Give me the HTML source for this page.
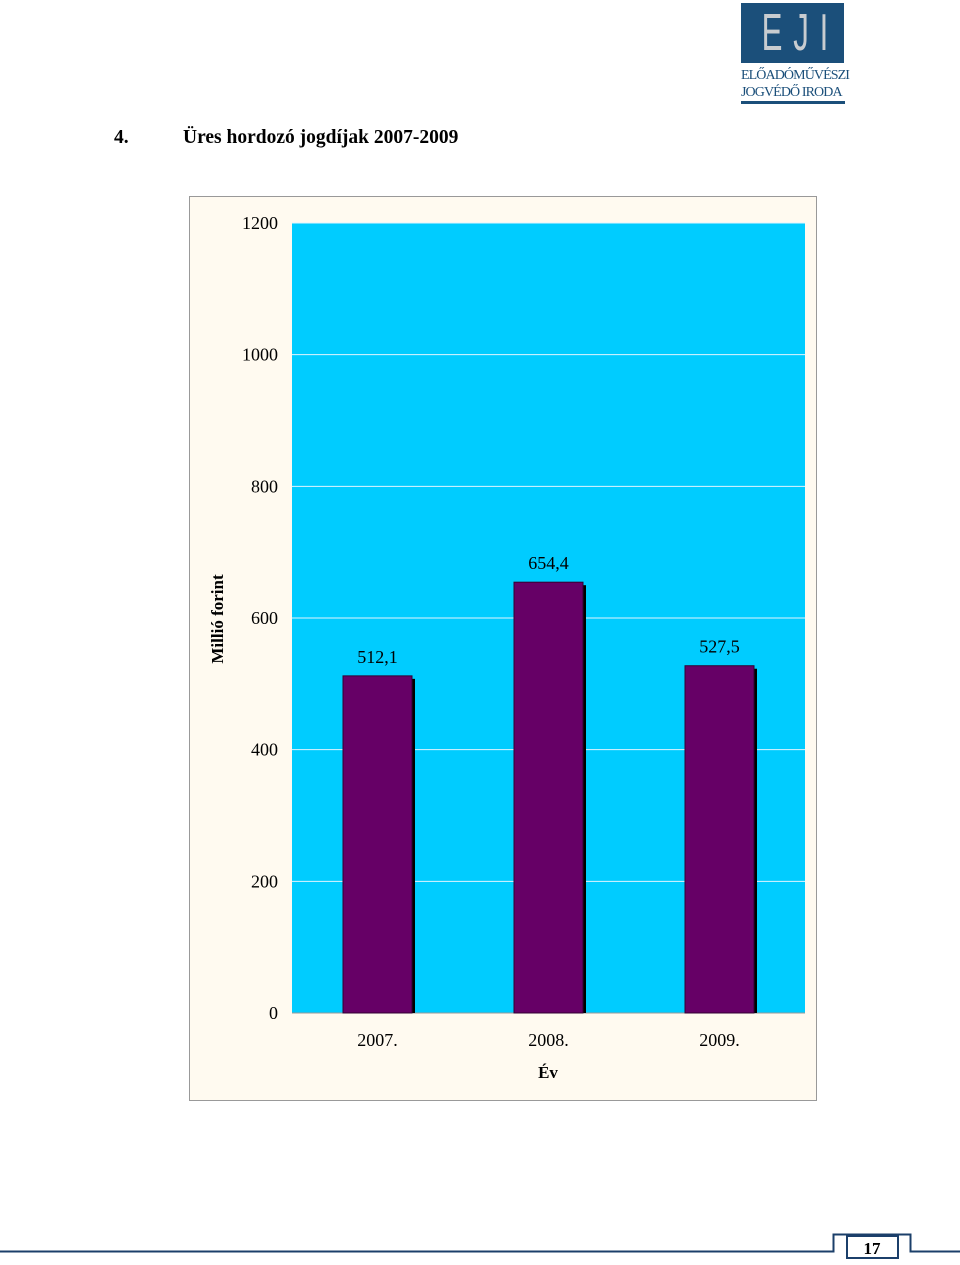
<!DOCTYPE html>
<html><head><meta charset="utf-8"><style>
body{margin:0;width:960px;height:1265px;background:#fff;position:relative;font-family:"Liberation Serif",serif;overflow:hidden}
.a{position:absolute}
</style></head><body>
<div class="a" style="left:741px;top:3px;width:103px;height:60px;background:#1b4f7a"></div>
<div class="a" style="left:741px;top:3px;width:103px;height:60px;color:#c8ccd0;font-size:52px;line-height:60px;text-align:center;letter-spacing:18px;font-family:'Liberation Sans',sans-serif;font-weight:100;transform:scaleX(0.6)">EJI</div>
<div class="a" style="left:741px;top:67px;color:#1b4f7a;font-size:14px;line-height:17px;letter-spacing:-0.9px;white-space:nowrap">ELŐADÓMŰVÉSZI<br>JOGVÉDŐ IRODA</div>
<div class="a" style="left:741px;top:101px;width:104px;height:3px;background:#1b4f7a"></div>
<div class="a" style="left:114px;top:127px;font-size:19.5px;font-weight:bold">4.<span class="a" style="left:69px;white-space:nowrap">Üres hordozó jogdíjak 2007-2009</span></div>
<svg class="a" style="left:0;top:0" width="960" height="1265">
<rect x="189.5" y="196.5" width="627" height="904" fill="#fffaf0" stroke="#999"/>
<rect x="292" y="223" width="513" height="790" fill="#00ccff"/>
<g id="grid"></g><g id="bars"></g>
<text x="223" y="619" transform="rotate(-90 223 619)" text-anchor="middle" font-size="17" font-weight="bold" font-family="Liberation Serif">Millió forint</text>
<text x="548" y="1078" text-anchor="middle" font-size="17" font-weight="bold" font-family="Liberation Serif">Év</text>
<path d="M0 1251.5H833.5V1234.5H910.5V1251.5H960" fill="none" stroke="#1b3f6a" stroke-width="2"/>
<rect x="847" y="1236" width="51" height="22" fill="#fff" stroke="#1b3f6a" stroke-width="2"/>
<text x="872" y="1254" text-anchor="middle" font-size="17" font-weight="bold" font-family="Liberation Serif">17</text>
</svg>
<script>
const categories=["2007.","2008.","2009."];
const values=[512.1,654.4,527.5];
const valueLabels=["512,1","654,4","527,5"];
const ticks=[0,200,400,600,800,1000,1200];
const NS="http://www.w3.org/2000/svg";
const x0=292,x1=805,y0=1013,y1=223,ymax=1200;
const y=v=>y0-(v/ymax)*(y0-y1);
const bw=(x1-x0)/categories.length;
const g=document.getElementById('grid'),b=document.getElementById('bars');
function mk(p,t,a){const e=document.createElementNS(NS,t);for(const k in a)e.setAttribute(k,a[k]);p.appendChild(e);return e;}
ticks.forEach(t=>{
 const l=mk(g,'line',{x1:x0,x2:x1,y1:y(t),y2:y(t),stroke:t===0?'#999':'#e0f4ff','stroke-width':1});
 
 
 const tx=mk(g,'text',{x:278,y:y(t)+6,'text-anchor':'end','font-size':18,'font-family':'Liberation Serif'});
 tx.textContent=t;
 
 
});
categories.forEach((c,i)=>{
 const cx=x0+bw*(i+0.5),w=69,top=y(values[i]);
 const s=mk(b,'rect',{x:cx-w/2+3,y:top+3,width:w,height:y0-top-3,fill:'#000'});
 
 
 const r=mk(b,'rect',{x:cx-w/2,y:top,width:w,height:y0-top,fill:'#660066',stroke:'#330033','stroke-width':1});
 
 
 const v=mk(b,'text',{x:cx,y:top-13,'text-anchor':'middle','font-size':18,'font-family':'Liberation Serif'});
 v.textContent=valueLabels[i];
 
 
 const xl=mk(b,'text',{x:cx,y:1046,'text-anchor':'middle','font-size':18,'font-family':'Liberation Serif'});
 xl.textContent=c;
 
 
});
</script>
</body></html>
